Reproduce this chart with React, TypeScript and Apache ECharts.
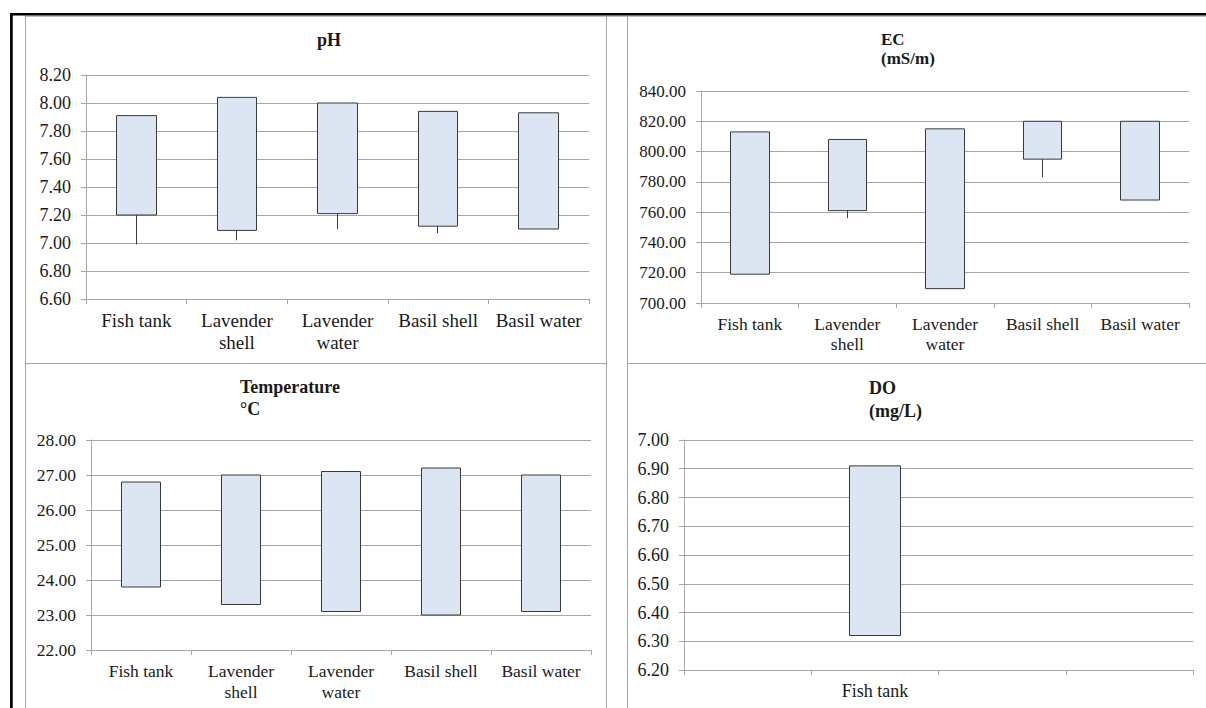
import React, { useEffect, useRef } from "react";
import * as echarts from "echarts";

const categories = ["Fish tank", "Lavender\nshell", "Lavender\nwater", "Basil shell", "Basil water"];

const phBoxBottom = [7.2, 7.09, 7.21, 7.12, 7.1];
const phBoxTop = [7.91, 8.04, 8.0, 7.94, 7.93];
const phLow = [6.99, 7.02, 7.1, 7.07, 7.1];

const ecBoxBottom = [719, 761, 709.5, 795, 768];
const ecBoxTop = [813, 808, 815, 820, 820];
const ecLow = [719, 756, 709.5, 783, 768];

const tempBoxBottom = [23.8, 23.3, 23.1, 23.0, 23.1];
const tempBoxTop = [26.8, 27.0, 27.1, 27.2, 27.0];
const tempLow = [23.8, 23.3, 23.1, 23.0, 23.1];

const doCategories = ["", "Fish tank", " ", "  "];
const doIndex = [1];
const doBoxBottom = [6.32];
const doBoxTop = [6.91];
const doLow = [6.32];

const FONT = "Liberation Serif";
const GRID_COLOR = "#a6a6a6";
const BOX_FILL = "#dce6f2";
const BOX_BORDER = "#3a3a3a";

function toCandle(bottom: number[], top: number[], low: number[]) {
  return bottom.map((b, i) => [b, top[i], low[i], top[i]]);
}

function yAxis(gridIndex: number, min: number, max: number, interval: number, fontSize: number) {
  return {
    type: "value",
    gridIndex,
    min,
    max,
    interval,
    axisLine: { show: true, lineStyle: { color: GRID_COLOR, width: 1 } },
    axisTick: { show: true, length: 5, lineStyle: { color: GRID_COLOR } },
    splitLine: { show: true, lineStyle: { color: GRID_COLOR, width: 1 } },
    axisLabel: {
      margin: 15,
      fontFamily: FONT,
      fontSize,
      color: "#1a1a1a",
      formatter: (v: number) => v.toFixed(2),
    },
  };
}

function xAxis(gridIndex: number, data: string[], fontSize: number, lineHeight: number, margin: number) {
  return {
    type: "category",
    gridIndex,
    data,
    boundaryGap: true,
    axisLine: { show: true, lineStyle: { color: GRID_COLOR, width: 1 } },
    axisTick: { show: true, length: 5, alignWithLabel: false, lineStyle: { color: GRID_COLOR } },
    splitLine: { show: false },
    axisLabel: {
      interval: 0,
      margin,
      fontFamily: FONT,
      fontSize,
      lineHeight,
      color: "#1a1a1a",
      align: "center",
    },
  };
}

function candle(xIdx: number, data: any[], extra: any = {}) {
  return {
    type: "candlestick",
    xAxisIndex: xIdx,
    yAxisIndex: xIdx,
    barWidth: "40%",
    data,
    itemStyle: {
      color: BOX_FILL,
      color0: BOX_FILL,
      borderColor: BOX_BORDER,
      borderColor0: BOX_BORDER,
      borderColorDoji: BOX_BORDER,
      borderWidth: 1,
    },
    ...extra,
  };
}

function titleStyle(fontSize: number, lineHeight: number) {
  return {
    fontFamily: FONT,
    fontWeight: "bold",
    fontSize,
    lineHeight,
    color: "#1a1a1a",
  };
}

export default function App() {
  const ref = useRef<HTMLDivElement>(null);
  useEffect(() => {
    if (!ref.current) return;
    const chart = echarts.init(ref.current, undefined, { renderer: "svg" });
    const doData = doIndex.map((ix, i) => [ix, doBoxBottom[i], doBoxTop[i], doLow[i], doBoxTop[i]]);
    chart.setOption({
      animation: false,
      backgroundColor: "#ffffff",
      title: [
        { text: "pH", left: 317, top: 30, padding: 0, textStyle: { ...titleStyle(18, 20), align: "left" } },
        { text: "EC\n(mS/m)", left: 881, top: 30, padding: 0, textStyle: { ...titleStyle(17, 19), align: "left" } },
        { text: "Temperature\n°C", left: 240, top: 376, padding: 0, textStyle: { ...titleStyle(18, 22), align: "left" } },
        { text: "DO\n(mg/L)", left: 869, top: 376, padding: 0, textStyle: { ...titleStyle(18, 23), align: "left" } },
      ],
      grid: [
        { left: 86, top: 75, width: 503, height: 224, containLabel: false },
        { left: 701, top: 91, width: 488, height: 212, containLabel: false },
        { left: 91, top: 440, width: 500, height: 210, containLabel: false },
        { left: 684, top: 440, width: 509, height: 230, containLabel: false },
      ],
      xAxis: [
        xAxis(0, categories, 19, 22, 10),
        xAxis(1, categories, 17.5, 20, 11),
        xAxis(2, categories, 17.5, 21, 10),
        xAxis(3, doCategories, 18, 20, 11),
      ],
      yAxis: [
        yAxis(0, 6.6, 8.2, 0.2, 18),
        yAxis(1, 700, 840, 20, 17),
        yAxis(2, 22, 28, 1, 17.5),
        yAxis(3, 6.2, 7.0, 0.1, 18),
      ],
      series: [
        candle(0, toCandle(phBoxBottom, phBoxTop, phLow)),
        candle(1, toCandle(ecBoxBottom, ecBoxTop, ecLow)),
        candle(2, toCandle(tempBoxBottom, tempBoxTop, tempLow)),
        candle(3, doData, { encode: { x: 0, y: [1, 2, 3, 4] } }),
      ],
      graphic: [
        { type: "line", shape: { x1: 25.5, y1: 16, x2: 25.5, y2: 708 }, style: { stroke: GRID_COLOR, lineWidth: 1 } },
        { type: "line", shape: { x1: 606.5, y1: 16, x2: 606.5, y2: 708 }, style: { stroke: GRID_COLOR, lineWidth: 1 } },
        { type: "line", shape: { x1: 627.5, y1: 16, x2: 627.5, y2: 708 }, style: { stroke: GRID_COLOR, lineWidth: 1 } },
        { type: "line", shape: { x1: 25, y1: 363.5, x2: 607, y2: 363.5 }, style: { stroke: GRID_COLOR, lineWidth: 1 } },
        { type: "line", shape: { x1: 627, y1: 363.5, x2: 1206, y2: 363.5 }, style: { stroke: GRID_COLOR, lineWidth: 1 } },
        { type: "line", shape: { x1: 25, y1: 16.2, x2: 1206, y2: 16.2 }, style: { stroke: GRID_COLOR, lineWidth: 1 } },
        { type: "line", shape: { x1: 10, y1: 14.2, x2: 1206, y2: 14.2 }, style: { stroke: "#000000", lineWidth: 2.6 } },
        { type: "line", shape: { x1: 11.4, y1: 13, x2: 11.4, y2: 708 }, style: { stroke: "#000000", lineWidth: 2.7 } },
      ],
    });
    return () => chart.dispose();
  }, []);
  return (
    <div
      ref={ref}
      style={{ position: "absolute", left: 0, top: 0, width: 1206, height: 708, background: "#fff" }}
    />
  );
}
